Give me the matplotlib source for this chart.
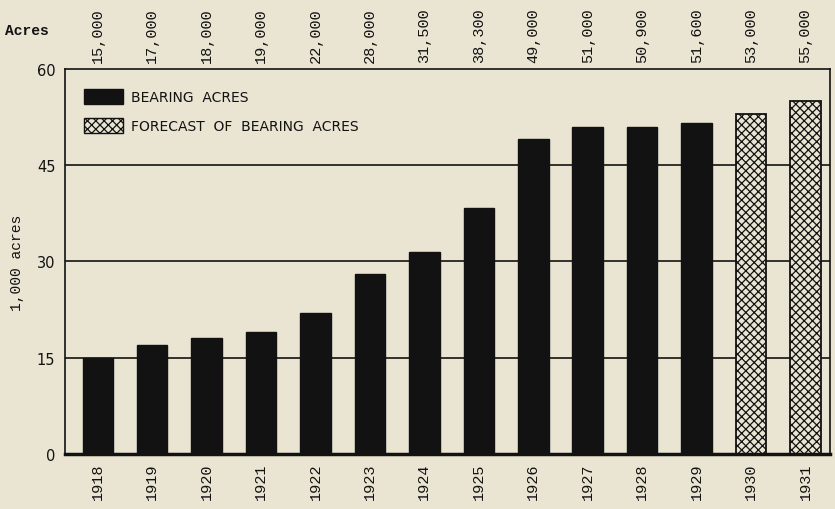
import matplotlib
matplotlib.use("Agg")
import matplotlib.pyplot as plt
import matplotlib.transforms as mtransforms
from matplotlib.patches import Patch

years = ["1918", "1919", "1920", "1921", "1922", "1923", "1924",
         "1925", "1926", "1927", "1928", "1929", "1930", "1931"]
acres = [15000, 17000, 18000, 19000, 22000, 28000, 31500,
         38300, 49000, 51000, 50900, 51600, 53000, 55000]
top_labels = ["15,000", "17,000", "18,000", "19,000", "22,000", "28,000", "31,500",
              "38,300", "49,000", "51,000", "50,900", "51,600", "53,000", "55,000"]
forecast = [False] * 12 + [True, True]
y_ticks = [0, 15, 30, 45, 60]

paper = "#e9e5d2"
ink = "#121212"
mono = "Liberation Mono"

fig = plt.figure(figsize=(8.35, 5.1), dpi=100, facecolor=paper)
ax = fig.add_axes([0.078, 0.108, 0.916, 0.755], facecolor=paper)

x = list(range(len(years)))
vals = [a / 1000 for a in acres]

for y in y_ticks[1:-1]:
    ax.axhline(y, color=ink, lw=1.2, zorder=1)

plt.rcParams["hatch.linewidth"] = 0.9
for xi, v, fc in zip(x, vals, forecast):
    if fc:
        ax.bar(xi, v, width=0.56, facecolor=paper, edgecolor=ink,
               hatch="xxxx", linewidth=1.3, zorder=2)
    else:
        ax.bar(xi, v, width=0.56, color=ink, edgecolor=ink, linewidth=1.0, zorder=2)

ax.set_xlim(-0.6, 13.45)
ax.set_ylim(0, 60)
ax.set_yticks(y_ticks)
ax.set_yticklabels([str(t) for t in y_ticks], fontsize=10.5, family="DejaVu Sans",
                   color=ink)
ax.set_xticks(x)
ax.set_xticklabels(years, rotation=90, family=mono, fontsize=11, color=ink)
ax.tick_params(axis="both", length=0, pad=6)
ax.tick_params(axis="y", pad=7)

for s in ax.spines.values():
    s.set_color(ink)
    s.set_linewidth(1.2)
ax.spines["bottom"].set_linewidth(2.5)

ax.set_ylabel("1,000 acres", family=mono, fontsize=10.5, color=ink, labelpad=9)

trans = mtransforms.blended_transform_factory(ax.transData, ax.transAxes)
for xi, lab in zip(x, top_labels):
    ax.text(xi, 1.018, lab, rotation=90, ha="center", va="bottom",
            family=mono, fontsize=11, color=ink, transform=trans)
fig.text(0.006, 0.94, "Acres", family=mono, fontsize=10.5, fontweight="bold",
         color=ink, ha="left", va="center")

handles = [Patch(facecolor=ink, edgecolor=ink),
           Patch(facecolor=paper, edgecolor=ink, hatch="xxxx")]
leg = ax.legend(handles, ["BEARING  ACRES", "FORECAST  OF  BEARING  ACRES"],
                loc="upper left", bbox_to_anchor=(0.008, 0.98), frameon=False,
                handlelength=2.8, handleheight=1.25, handletextpad=0.6,
                labelspacing=1.0, prop={"family": "DejaVu Sans", "size": 10})
for t in leg.get_texts():
    t.set_color(ink)

fig.savefig("out.png", dpi=100, facecolor=paper)
